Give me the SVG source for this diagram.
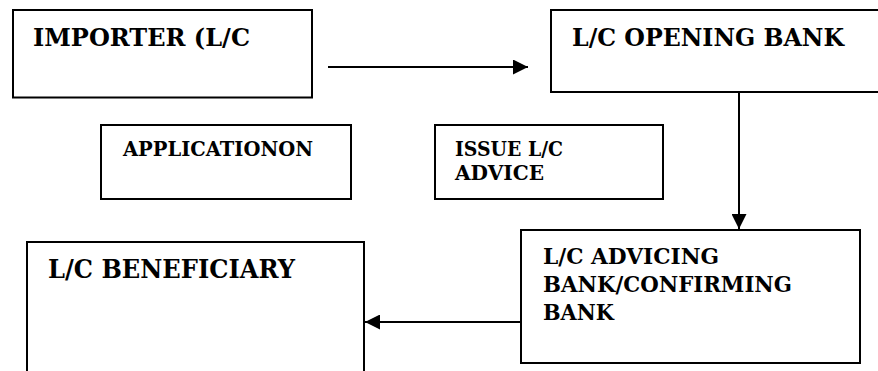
<svg xmlns="http://www.w3.org/2000/svg" width="878" height="371" viewBox="0 0 878 371">
<style>
.box{fill:#fff;stroke:#000;stroke-width:2}
.t{font-family:'DejaVu Serif','Liberation Serif',serif;font-weight:700;fill:#000}
.conn{stroke:#000;stroke-width:2;fill:none}
</style>
<defs>
<marker id="ah" markerUnits="userSpaceOnUse" markerWidth="15" markerHeight="15" viewBox="0 0 15 15" refX="15" refY="7.5" orient="auto">
<path d="M0,0 L15,7.5 L0,15 Z" fill="#000"/>
</marker>
</defs>
<rect width="878" height="371" fill="#fff"/>
<g id="importer">
<rect class="box" x="13" y="10" width="299" height="87.5"/>
<text class="t" x="33" y="46" font-size="25" textLength="217" lengthAdjust="spacingAndGlyphs">IMPORTER (L/C</text>
</g>
<g id="opening-bank">
<rect class="box" x="551" y="10" width="340" height="82"/>
<text class="t" x="572" y="46" font-size="25" textLength="272" lengthAdjust="spacingAndGlyphs">L/C OPENING BANK</text>
</g>
<g id="application">
<rect class="box" x="101" y="125" width="250" height="74"/>
<text class="t" x="123" y="156" font-size="20" textLength="190" lengthAdjust="spacingAndGlyphs">APPLICATIONON</text>
</g>
<g id="issue">
<rect class="box" x="435" y="125" width="228" height="74"/>
<text class="t" x="455" y="156" font-size="20" textLength="108" lengthAdjust="spacingAndGlyphs">ISSUE L/C</text>
<text class="t" x="455" y="180" font-size="20" textLength="89" lengthAdjust="spacingAndGlyphs">ADVICE</text>
</g>
<g id="advising">
<rect class="box" x="521" y="230" width="339" height="133"/>
<text class="t" x="543" y="264" font-size="23" textLength="176" lengthAdjust="spacingAndGlyphs">L/C ADVICING</text>
<text class="t" x="543" y="292" font-size="23" textLength="249" lengthAdjust="spacingAndGlyphs">BANK/CONFIRMING</text>
<text class="t" x="543" y="320" font-size="23" textLength="71" lengthAdjust="spacingAndGlyphs">BANK</text>
</g>
<g id="beneficiary">
<rect class="box" x="27" y="242" width="337" height="140"/>
<text class="t" x="48" y="278" font-size="26" textLength="247" lengthAdjust="spacingAndGlyphs">L/C BENEFICIARY</text>
</g>
<g id="connectors">
<line class="conn" x1="328" y1="67" x2="528" y2="67" marker-end="url(#ah)"/>
<line class="conn" x1="739" y1="92" x2="739" y2="229" marker-end="url(#ah)"/>
<line class="conn" x1="521" y1="322" x2="365" y2="322" marker-end="url(#ah)"/>
</g>
</svg>
